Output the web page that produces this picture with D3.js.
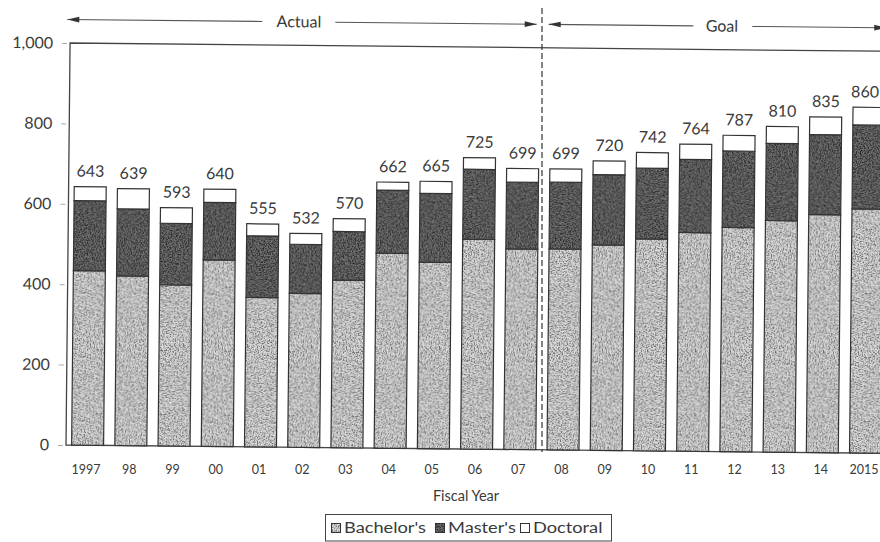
<!DOCTYPE html>
<html>
<head>
<meta charset="utf-8">
<script src="https://cdn.jsdelivr.net/npm/d3@7"></script>
<style>
  html, body { margin: 0; padding: 0; background: #fff; }
  svg { display: block; font-family: Lato, "Open Sans", sans-serif; }
</style>
</head>
<body>
<script>
// Degrees conferred per fiscal year (actual through 2007, goal afterwards)
const years     = ["1997","98","99","00","01","02","03","04","05","06","07","08","09","10","11","12","13","14","2015"];
const bachelors = [434, 422, 401, 464, 372, 383, 417, 485, 464, 522, 499, 500, 511, 527, 544, 558, 576, 592, 607];
const masters   = [174, 167, 153, 143, 153, 122, 121, 157, 171, 174, 166, 166, 175, 176, 182, 190, 192, 199, 209];
const doctoral  = [ 35,  50,  39,  33,  30,  27,  32,  20,  30,  29,  34,  33,  34,  39,  38,  39,  42,  44,  44];
const yTicks    = [0, 200, 400, 600, 800, 1000];
const seriesKeys   = ["bachelors", "masters", "doctoral"];
const seriesLabels = ["Bachelor's", "Master's", "Doctoral"];
const lastActual = "07";

const W = 880, H = 542;
const ink = "#3a3a3a";
const tilt = 0.58;                       // degrees
const tiltSlope = Math.tan(tilt * Math.PI / 180);

const svg = d3.select("body").append("svg")
  .attr("width", W).attr("height", H)
  .attr("viewBox", `0 0 ${W} ${H}`);

const defs = svg.append("defs");

// Grainy stipple fills built from turbulence noise
function grain(id, base, speck, gain, bias, freq, seed) {
  const c = d3.color(speck);
  const f = defs.append("filter").attr("id", id + "-noise")
    .attr("x", 0).attr("y", 0).attr("width", 1).attr("height", 1)
    .attr("color-interpolation-filters", "sRGB");
  f.append("feTurbulence").attr("type", "fractalNoise")
    .attr("baseFrequency", freq).attr("numOctaves", 2)
    .attr("seed", seed).attr("stitchTiles", "stitch");
  f.append("feColorMatrix").attr("type", "matrix")
    .attr("values", `0 0 0 0 ${c.r/255}  0 0 0 0 ${c.g/255}  0 0 0 0 ${c.b/255}  ${gain} 0 0 0 ${bias}`);
  const p = defs.append("pattern").attr("id", id)
    .attr("patternUnits", "userSpaceOnUse").attr("width", 64).attr("height", 64);
  p.append("rect").attr("width", 64).attr("height", 64).attr("fill", base);
  p.append("rect").attr("width", 64).attr("height", 64).attr("fill", "#000")
    .attr("filter", `url(#${id}-noise)`);
}
grain("tex-bach", "#dadada", "#6a6a6a", 3.2, -1.35, 0.75, 4);
grain("tex-mast", "#727272", "#262626", 3.0, -1.15, 0.75, 9);
const fills = { bachelors: "url(#tex-bach)", masters: "url(#tex-mast)", doctoral: "#ffffff" };

// Scales
const x0 = 66, step = 43.22;
const x = d3.scaleBand().domain(years)
  .range([x0, x0 + step * years.length])
  .paddingInner(0.26).paddingOuter(0.13);
const y = d3.scaleLinear().domain([0, 1000]).range([445, 43]);

// Stack the three degree levels
const rows = years.map((yr, i) => ({ year: yr, bachelors: bachelors[i], masters: masters[i], doctoral: doctoral[i] }));
const stacked = d3.stack().keys(seriesKeys)(rows);

// Plot body (slightly tilted, as printed)
const g = svg.append("g").attr("transform", `rotate(${tilt}, ${x0}, 445)`);

// Frame
const right = 900;
g.append("path")
  .attr("d", `M${right},${y(1000)}H${x0}V${y(0)}H${right}`)
  .attr("fill", "none").attr("stroke", "#444").attr("stroke-width", 1.3);

// Y axis labels
const yAxis = d3.axisLeft(y).tickValues(yTicks).tickFormat(d3.format(","))
  .tickSizeInner(5).tickSizeOuter(0).tickPadding(12);
const ya = g.append("g").attr("transform", `translate(${x0},0)`).call(yAxis);
ya.select(".domain").remove();
ya.selectAll(".tick line").attr("stroke", "#aaa").attr("transform", "translate(-3,0)");
ya.selectAll(".tick text").attr("fill", ink).style("font-size", "16px")
  .style("font-family", "Lato, 'Open Sans', sans-serif");

// Bars
const layers = g.append("g").selectAll("g").data(stacked).join("g")
  .attr("fill", d => fills[d.key]);
layers.selectAll("rect").data(d => d).join("rect")
  .attr("x", d => x(d.data.year))
  .attr("width", x.bandwidth())
  .attr("y", d => y(d[1]))
  .attr("height", d => y(d[0]) - y(d[1]))
  .attr("stroke", "#333").attr("stroke-width", 1.2);

// Totals above each bar
const totals = rows.map(r => ({ year: r.year, total: r.bachelors + r.masters + r.doctoral }));
const totalLabels = g.append("g").selectAll("text").data(totals).join("text")
  .attr("x", d => x(d.year) + x.bandwidth() / 2)
  .attr("y", d => y(d.total) - 10)
  .attr("text-anchor", "middle")
  .attr("fill", ink).style("font-size", "16px")
  .text(d => d3.format(",")(d.total));
// keep the rightmost total inside the page
totalLabels.each(function (d) {
  const b = this.getBBox();
  const yy = +this.getAttribute("y");
  const shownRight = b.x + b.width + (445 - yy) * tiltSlope;
  if (shownRight > W - 1) this.setAttribute("x", +this.getAttribute("x") - (shownRight - (W - 1)));
});

// Actual / Goal range arrows
const ay = 19.5;
function arrowHead(xTip, dir) {
  g.append("path")
    .attr("d", `M${xTip},${ay}L${xTip - dir * 12},${ay - 2.8}L${xTip - dir * 12},${ay + 2.8}Z`)
    .attr("fill", "#333");
}
function rangeLine(xa, xb) {
  g.append("line").attr("x1", xa).attr("x2", xb).attr("y1", ay).attr("y2", ay)
    .attr("stroke", "#555").attr("stroke-width", 1.1);
}
const splitX = x(lastActual) + x.bandwidth() + x.step() * x.paddingInner() / 2;
rangeLine(63, 258); rangeLine(331, splitX - 9);
arrowHead(63, -1); arrowHead(splitX - 9, 1);
g.append("text").attr("x", 294.7).attr("y", ay + 5.5).attr("text-anchor", "middle")
  .attr("fill", ink).style("font-size", "16px").text("Actual");
rangeLine(splitX + 3, 689); rangeLine(748, 900);
arrowHead(splitX + 3, -1); arrowHead(882, 1);
g.append("text").attr("x", 717.7).attr("y", ay + 5.5).attr("text-anchor", "middle")
  .attr("fill", ink).style("font-size", "16px").text("Goal");

// Divider between actual and goal years
svg.append("line")
  .attr("x1", 542).attr("x2", 542).attr("y1", 8).attr("y2", 452)
  .attr("stroke", "#333").attr("stroke-width", 1.2).attr("stroke-dasharray", "6,3");

// X axis labels
const xAxis = d3.axisBottom(x).tickSize(0).tickPadding(20);
const xa = svg.append("g").attr("transform", "translate(-1.5,445)").call(xAxis);
xa.select(".domain").remove();
xa.selectAll(".tick text").attr("fill", ink).style("font-size", "12.5px")
  .style("font-family", "Lato, 'Open Sans', sans-serif");

svg.append("text").attr("x", 466).attr("y", 501).attr("text-anchor", "middle")
  .attr("fill", ink).style("font-size", "14.5px").text("Fiscal Year");

// Legend
const lg = svg.append("g");
lg.append("rect").attr("x", 325.5).attr("y", 514.5).attr("width", 286).attr("height", 26.5)
  .attr("fill", "#fff").attr("stroke", "#444").attr("stroke-width", 1);
const legendPos = [331, 435, 520];
seriesKeys.forEach((k, i) => {
  const lx = legendPos[i];
  lg.append("rect").attr("x", lx + 0.5).attr("y", 523.5).attr("width", 9).attr("height", 9)
    .attr("fill", fills[k]).attr("stroke", "#333").attr("stroke-width", 1);
  lg.append("text")
    .attr("transform", `translate(${lx + 13},533) scale(1.14,1)`)
    .attr("fill", ink).style("font-size", "16px").text(seriesLabels[i]);
});
</script>
</body>
</html>
